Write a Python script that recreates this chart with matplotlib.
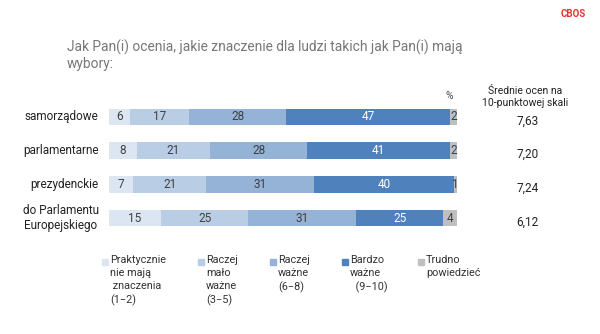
import numpy as np
import matplotlib.pyplot as plt
from matplotlib.patches import Rectangle

plt.rcParams['font.family'] = ['Roboto', 'DejaVu Sans']

categories = ['samorządowe', 'parlamentarne', 'prezydenckie', 'do Parlamentu\nEuropejskiego']
praktycznie = [6, 8, 7, 15]
malo = [17, 21, 21, 25]
raczej = [28, 28, 31, 31]
bardzo = [47, 41, 40, 25]
trudno = [2, 2, 1, 4]
means = ['7,63', '7,20', '7,24', '6,12']
legend_labels = ['Praktycznie\nnie mają\n znaczenia\n(1\u22122)',
                 'Raczej\nmało\nważne\n(3\u22125)',
                 'Raczej\nważne\n(6\u22128)',
                 'Bardzo\nważne\n  (9\u221210)',
                 'Trudno\npowiedzieć']
colors = ['#dce6f2', '#b9cde5', '#95b3d7', '#4f81bd', '#bfbfbf']
txt_colors = ['#404040', '#404040', '#404040', 'white', '#404040']

series = [praktycznie, malo, raczej, bardzo, trudno]

fig = plt.figure(figsize=(6, 3.34), dpi=100)
W, H = 600, 334
ax = fig.add_axes([109 / W, 1 - 235 / H, 348 / W, 135 / H])

y = np.arange(len(categories))
left = np.zeros(len(categories))
for vals, c, tc in zip(series, colors, txt_colors):
    vals = np.array(vals, dtype=float)
    ax.barh(y, vals, left=left, color=c, height=0.49, edgecolor='none')
    for yi, (l, v) in enumerate(zip(left, vals)):
        ax.text(l + v / 2, yi, f'{int(v)}', ha='center', va='center',
                fontsize=8.5, color=tc)
    left += vals

ax.set_xlim(0, 100)
ax.set_ylim(3.5, -0.5)
ax.axis('off')

for yi, cat in enumerate(categories):
    ax.text(-3, yi, cat, ha='right', va='center', fontsize=8.5,
            color='#222222', multialignment='center')
    ax.text(120.2, yi + 0.12, means[yi], ha='center', va='center', fontsize=8.5,
            color='#222222')

# header texts
fig.text(525 / W, 1 - 97 / H, 'Średnie ocen na\n10-punktowej skali', ha='center',
         va='center', fontsize=7.5, color='#222222', linespacing=1.3)
fig.text(449 / W, 1 - 96 / H, '%', ha='center', va='center', fontsize=7.5,
         color='#444444')
fig.text(67 / W, 1 - 55 / H,
         'Jak Pan(i) ocenia, jakie znaczenie dla ludzi takich jak Pan(i) mają\nwybory:',
         ha='left', va='center', fontsize=9.9, color='#777777', linespacing=1.2)
fig.text(586 / W, 1 - 14 / H, 'CBOS', ha='right', va='center', fontsize=7,
         color='#e8332a', fontweight='bold')

# legend
leg_x = [102, 198, 270, 342, 418]
for lx, lab, c in zip(leg_x, legend_labels, colors):
    fig.patches.append(Rectangle((lx / W, 1 - 265 / H), 6 / W, 6 / H,
                                 transform=fig.transFigure, color=c))
    fig.text((lx + 8) / W, 1 - 255 / H, lab, ha='left', va='top', fontsize=7.8,
             color='#333333', linespacing=1.38)

fig.savefig('out.png', dpi=100)
